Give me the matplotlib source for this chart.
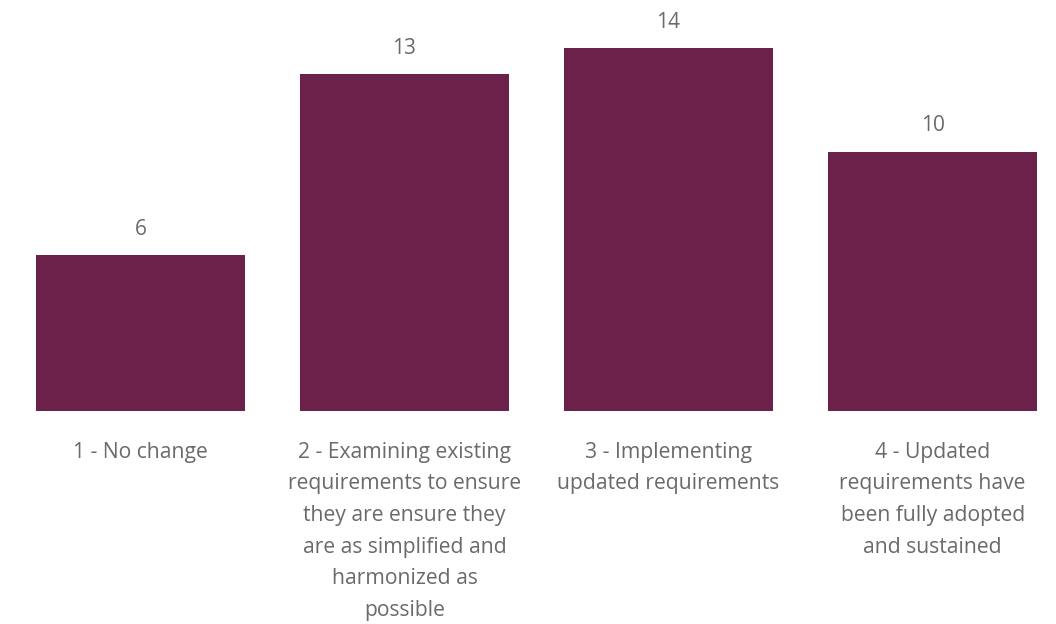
import matplotlib.pyplot as plt

categories = [
    "1 - No change",
    "2 - Examining existing\nrequirements to ensure\nthey are ensure they\nare as simplified and\nharmonized as\npossible",
    "3 - Implementing\nupdated requirements",
    "4 - Updated\nrequirements have\nbeen fully adopted\nand sustained",
]
counts = [6, 13, 14, 10]

bar_color = "#6B2149"
text_color = "#6a6a6a"
plt.rcParams["font.family"] = ["Open Sans", "DejaVu Sans"]

fig = plt.figure(figsize=(10.56, 6.24), dpi=100)
ax = fig.add_axes([36 / 1056, (624 - 411) / 624, 1001 / 1056, 363 / 624])

x = list(range(len(categories)))
bars = ax.bar(x, counts, width=0.79, color=bar_color)
ax.set_xlim(-0.395, 3.395)
ax.set_ylim(0, 14)

for b, v in zip(bars, counts):
    ax.annotate(str(v), (b.get_x() + b.get_width() / 2, v), xytext=(0, 11),
                textcoords="offset points", ha="center", va="bottom",
                fontsize=15, color=text_color, annotation_clip=False)

ax.set_xticks(x)
ax.set_xticklabels(categories, fontsize=15.2, color=text_color, linespacing=1.67)
ax.tick_params(axis="x", length=0, pad=22)
ax.set_yticks([])
for s in ax.spines.values():
    s.set_visible(False)

plt.savefig("out.png", dpi=100)
